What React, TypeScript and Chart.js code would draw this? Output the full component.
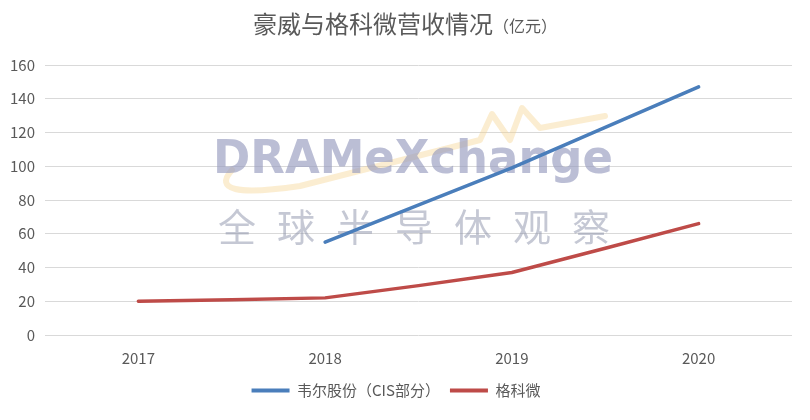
import React, { useEffect, useRef } from 'react';
import { Chart, registerables, Plugin } from 'chart.js';

Chart.register(...registerables);

const FONT = '"Noto Sans CJK SC", "Noto Sans", sans-serif';
const TEXT = '#595959';

const years = ['2017', '2018', '2019', '2020'];
const weier = [null, 55, 99, 147];
const gekewei = [20, 22, 37, 66];
const yTicks = [0, 20, 40, 60, 80, 100, 120, 140, 160];

// title with a smaller unit part, drawn by hand
const titlePlugin: Plugin = {
  id: 'mixedTitle',
  afterDraw(chart) {
    const ctx = chart.ctx;
    const main = '豪威与格科微营收情况';
    const unit = '（亿元）';
    ctx.save();
    ctx.fillStyle = TEXT;
    ctx.textBaseline = 'alphabetic';
    ctx.font = `24px ${FONT}`;
    const w1 = ctx.measureText(main).width;
    ctx.font = `16px ${FONT}`;
    const w2 = ctx.measureText(unit).width;
    const x = chart.width / 2 - (w1 + w2) / 2;
    ctx.font = `24px ${FONT}`;
    ctx.fillText(main, x, 33);
    ctx.font = `16px ${FONT}`;
    ctx.fillText(unit, x + w1, 32);
    ctx.restore();
  },
};

// faint DRAMeXchange watermark behind the lines
const watermarkPlugin: Plugin = {
  id: 'watermark',
  beforeDatasetsDraw(chart) {
    const ctx = chart.ctx;
    ctx.save();
    // swoosh
    ctx.strokeStyle = 'rgba(245, 210, 140, 0.4)';
    ctx.lineWidth = 6;
    ctx.lineCap = 'round';
    ctx.lineJoin = 'round';
    ctx.beginPath();
    ctx.moveTo(232, 170);
    ctx.quadraticCurveTo(205, 200, 300, 186);
    ctx.lineTo(480, 140);
    ctx.lineTo(492, 114);
    ctx.lineTo(510, 140);
    ctx.lineTo(522, 108);
    ctx.lineTo(540, 128);
    ctx.lineTo(605, 116);
    ctx.stroke();

    ctx.fillStyle = 'rgba(150, 155, 190, 0.65)';
    ctx.font = `bold 46px "DejaVu Sans", sans-serif`;
    ctx.textBaseline = 'alphabetic';
    const word = 'DRAMeXchange';
    const ww = ctx.measureText(word).width;
    const sx = 400 / ww;
    ctx.translate(213, 173);
    ctx.scale(sx, 1);
    ctx.fillText(word, 0, 0);
    ctx.setTransform(chart.currentDevicePixelRatio, 0, 0, chart.currentDevicePixelRatio, 0, 0);

    ctx.fillStyle = 'rgba(140, 145, 170, 0.5)';
    ctx.font = `38px ${FONT}`;
    ctx.textAlign = 'center';
    const chars = '全球半导体观察'.split('');
    chars.forEach((c, i) => {
      ctx.fillText(c, 237 + i * 59, 241);
    });
    ctx.restore();
  },
};

export default function App() {
  const canvasRef = useRef<HTMLCanvasElement>(null);

  useEffect(() => {
    if (!canvasRef.current) return;
    const chart = new Chart(canvasRef.current, {
      type: 'line',
      data: {
        labels: years,
        datasets: [
          {
            label: '韦尔股份（CIS部分）',
            data: weier,
            borderColor: '#4a7ebb',
            backgroundColor: '#4a7ebb',
            borderWidth: 3.5,
            pointRadius: 0,
            tension: 0,
            borderCapStyle: 'round',
            borderJoinStyle: 'round',
          },
          {
            label: '格科微',
            data: gekewei,
            borderColor: '#be4b48',
            backgroundColor: '#be4b48',
            borderWidth: 3.5,
            pointRadius: 0,
            tension: 0.05,
            borderCapStyle: 'round',
            borderJoinStyle: 'round',
          },
        ],
      },
      options: {
        animation: false,
        responsive: true,
        maintainAspectRatio: false,
        layout: { padding: { top: 65, right: 18, left: 0, bottom: 12 } },
        plugins: {
          title: { display: false },
          tooltip: { enabled: false },
          legend: {
            position: 'bottom',
            labels: {
              color: TEXT,
              font: { family: FONT, size: 15 },
              boxWidth: 38,
              boxHeight: 4,
              padding: 10,
              generateLabels: (c) =>
                c.data.datasets.map((d, i) => ({
                  text: d.label as string,
                  fillStyle: d.borderColor as string,
                  strokeStyle: d.borderColor as string,
                  lineWidth: 0,
                  fontColor: TEXT,
                  datasetIndex: i,
                  hidden: false,
                })),
            },
          },
        },
        scales: {
          x: {
            offset: true,
            grid: { display: false },
            border: { display: false },
            ticks: { color: TEXT, font: { family: FONT, size: 15 }, padding: 6 },
          },
          y: {
            min: 0,
            max: 160,
            afterBuildTicks: (axis) => {
              axis.ticks = yTicks.map((v) => ({ value: v }));
            },
            grid: { color: '#d9d9d9', lineWidth: 1, drawTicks: false },
            border: { display: false },
            ticks: { color: TEXT, font: { family: FONT, size: 15 }, padding: 10 },
          },
        },
      },
      plugins: [titlePlugin, watermarkPlugin],
    });
    return () => chart.destroy();
  }, []);

  return (
    <div style={{ position: 'absolute', left: 0, top: 0, width: 810, height: 420, background: '#fff' }}>
      <canvas ref={canvasRef} />
    </div>
  );
}
